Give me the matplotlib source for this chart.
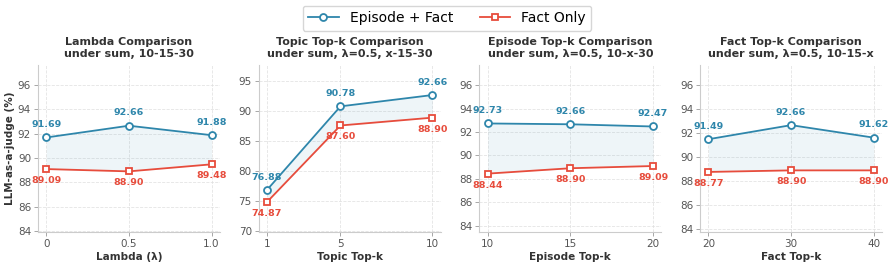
import matplotlib.pyplot as plt
from matplotlib.lines import Line2D

# Data
lambda_x = [0, 0.5, 1.0]
lambda_ep = [91.69, 92.66, 91.88]
lambda_fact = [89.09, 88.90, 89.48]

topic_x = [1, 5, 10]
topic_ep = [76.88, 90.78, 92.66]
topic_fact = [74.87, 87.60, 88.90]

episode_x = [10, 15, 20]
episode_ep = [92.73, 92.66, 92.47]
episode_fact = [88.44, 88.90, 89.09]

fact_x = [20, 30, 40]
fact_ep = [91.49, 92.66, 91.62]
fact_fact = [88.77, 88.90, 88.90]

titles = ['Lambda Comparison\nunder sum, 10-15-30',
          'Topic Top-k Comparison\nunder sum, λ=0.5, x-15-30',
          'Episode Top-k Comparison\nunder sum, λ=0.5, 10-x-30',
          'Fact Top-k Comparison\nunder sum, λ=0.5, 10-15-x']
xlabels = ['Lambda (λ)', 'Topic Top-k', 'Episode Top-k', 'Fact Top-k']
xticklabels = [['0', '0.5', '1.0'], ['1', '5', '10'], ['10', '15', '20'], ['20', '30', '40']]

panels = [(lambda_x, lambda_ep, lambda_fact),
          (topic_x, topic_ep, topic_fact),
          (episode_x, episode_ep, episode_fact),
          (fact_x, fact_ep, fact_fact)]

BLUE = '#2E86AB'
RED = '#E74C3C'
TEXT = '#333333'

fig, axes = plt.subplots(1, 4, figsize=(8.94, 2.68), dpi=100)
fig.subplots_adjust(left=0.0425, right=0.9866, top=0.7575, bottom=0.134, wspace=0.214)

for i, ax in enumerate(axes):
    x, ep, fa = panels[i]
    ax.fill_between(x, fa, ep, color=BLUE, alpha=0.08, linewidth=0)
    ax.plot(x, ep, color=BLUE, marker='o', markersize=5, markerfacecolor='white',
            markeredgewidth=1.3, linewidth=1.3, zorder=3)
    ax.plot(x, fa, color=RED, marker='s', markersize=4.5, markerfacecolor='white',
            markeredgewidth=1.3, linewidth=1.3, zorder=3)

    # value labels: above for Episode + Fact, below for Fact Only
    for xv, yv in zip(x, ep):
        ax.annotate(f'{yv:.2f}', (xv, yv), xytext=(0, 6), textcoords='offset points',
                    ha='center', va='bottom', fontsize=6.8, fontweight='bold', color=BLUE)
    for xv, yv in zip(x, fa):
        ax.annotate(f'{yv:.2f}', (xv, yv), xytext=(0, -5), textcoords='offset points',
                    ha='center', va='top', fontsize=6.8, fontweight='bold', color=RED)

    ax.set_ylim(min(fa) - 5, max(ep) + 5)
    ax.set_xticks(x)
    ax.set_xticklabels(xticklabels[i])
    ax.set_title(titles[i], fontsize=8, fontweight='bold', color=TEXT, pad=6)
    ax.set_xlabel(xlabels[i], fontsize=7.5, fontweight='bold', color=TEXT, labelpad=2)

    ax.grid(True, linestyle='--', linewidth=0.6, color='#dddddd', alpha=0.8)
    ax.set_axisbelow(True)
    for side in ['top', 'right']:
        ax.spines[side].set_visible(False)
    for side in ['left', 'bottom']:
        ax.spines[side].set_color('#cccccc')
        ax.spines[side].set_linewidth(0.8)
    ax.tick_params(labelsize=7.5, colors='#555555', length=3, width=0.6, pad=2)
    ax.tick_params(color='#999999')

axes[0].set_ylabel('LLM-as-a-judge (%)', fontsize=7.5, fontweight='bold', color=TEXT, labelpad=2)

handles = [Line2D([], [], color=BLUE, marker='o', markersize=5, markerfacecolor='white',
                  markeredgewidth=1.3, linewidth=1.3, label='Episode + Fact'),
           Line2D([], [], color=RED, marker='s', markersize=4.5, markerfacecolor='white',
                  markeredgewidth=1.3, linewidth=1.3, label='Fact Only')]
fig.legend(handles=handles, loc='upper center', bbox_to_anchor=(0.5, 1.005), ncol=2,
           fontsize=10, frameon=True, columnspacing=1.9, handlelength=2.2,
           borderpad=0.4, edgecolor='#cccccc')

fig.savefig('out.png', dpi=100)
